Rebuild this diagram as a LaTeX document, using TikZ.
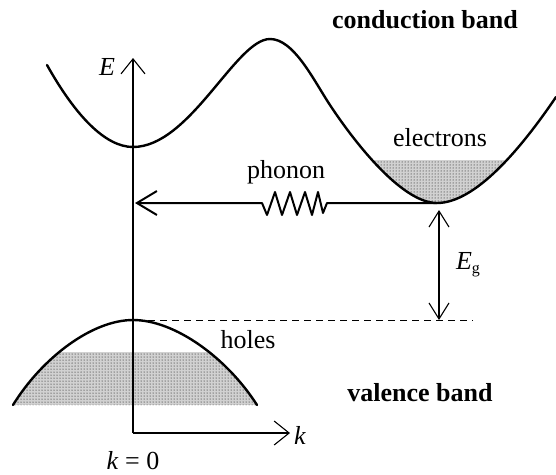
\documentclass[tikz,border=0pt]{standalone}
\usepackage{fontspec}
\setmainfont{Liberation Serif}
\usetikzlibrary{arrows.meta,patterns}
\begin{document}
\begin{tikzpicture}[x=1pt,y=-1pt,
  band/.style={line width=2.4pt,line cap=round,line join=round},
  axis/.style={line width=1.1pt},
  lbl/.style={font=\fontsize{26}{30}\selectfont,inner sep=0pt},
  blbl/.style={font=\fontsize{26}{30}\selectfont\bfseries,inner sep=0pt},
  dotfill/.style={pattern=dots,pattern color=black}
]
\useasboundingbox (0,0) rectangle (556,474);
\def\valence{(13,405) .. controls (42,358) and (92,320) .. (133,320) .. controls (175,320) and (227,358) .. (257,405)}
\def\pocket{(328,102) .. controls (350,136) and (400,203) .. (437,203) .. controls (475,203) and (520,150) .. (556,97)}
% fills
\begin{scope}
  \clip \pocket -- (556,0) -- (328,0) -- cycle;
  \fill[black!18] (360,160) rectangle (525,210);
  \fill[dotfill] (360,160) rectangle (525,210);
\end{scope}
\begin{scope}
  \clip \valence -- cycle;
  \fill[black!18] (0,352) rectangle (270,405);
  \fill[dotfill] (0,352) rectangle (270,405);
\end{scope}
% conduction band
\draw[band] (47,65) .. controls (75,115) and (105,147) .. (133,147)
  .. controls (190,147) and (236,39) .. (270,39)
  .. controls (293,39) and (312,77) .. \pocket;
% valence band
\draw[band] \valence;
% axes
\coordinate (O) at (133,433);
\coordinate (Etip) at (133,58);
\coordinate (ktip) at (290,433);
\draw[axis,-{Straight Barb[length=15pt,width=24pt,line width=1.1pt]}] (O) -- (Etip);
\draw[axis,-{Straight Barb[length=15pt,width=24pt,line width=1.1pt]}] (O) -- (ktip);
\node[lbl] (E) at (107,67) {\textit{E}};
\node[lbl,anchor=west] (k) at (294,435) {\textit{k}};
\node[lbl] (k0) at (133,461) {\textit{k} = 0};
% phonon
\coordinate (cmin) at (437,203);
\coordinate (ptip) at (135,203);
\draw[line width=2pt,line join=round,-{Straight Barb[length=20pt,width=24pt,line width=2pt]}]
  (cmin) -- (327,203) -- (323,213) -- (318,192) -- (312,215) -- (305,192) -- (297,215) -- (290,192) -- (282,215) -- (275,192) -- (267,215) -- (262,203) -- (ptip);
\node[lbl] (ph) at (286,172) {phonon};
\node[lbl] (el) at (440,138) {electrons};
\node[lbl] (ho) at (248,340) {holes};
% gap
\coordinate (gtop) at (439,210);
\coordinate (gbot) at (439,320);
\draw[line width=1pt,dash pattern=on 7pt off 5pt] (148,320) -- (473,320);
\draw[line width=1.1pt,{Straight Barb[length=16pt,width=20pt,line width=1.1pt]}-{Straight Barb[length=16pt,width=20pt,line width=1.1pt]}] (gtop) -- (gbot);
\node[lbl] (Eg) at (468,265) {\textit{E}\raisebox{-0.35ex}{\fontsize{16}{18}\selectfont g}};
\node[blbl] (cb) at (425,20) {conduction band};
\node[blbl] (vb) at (420,393) {valence band};
\end{tikzpicture}
\end{document}
